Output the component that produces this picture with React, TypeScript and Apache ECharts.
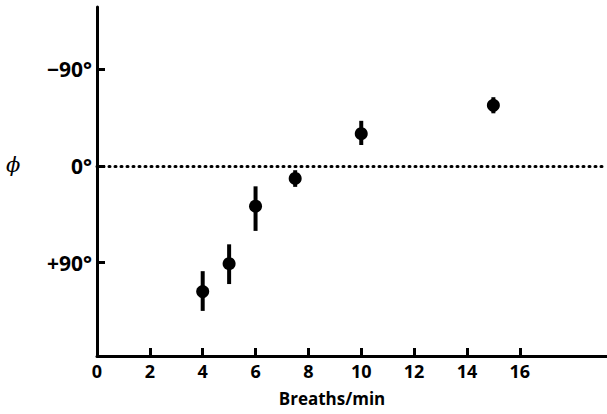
import React, { useEffect, useRef } from "react";
import * as echarts from "echarts";

// Breathing rate (breaths/min) and phase lag ϕ (degrees), with error limits
const rates = [4, 5, 6, 7.5, 10, 15];
const phase = [117, 91, 37.5, 11.7, -30, -56.5];
const errLow = [98, 73, 19, 4, -42, -64];
const errHigh = [135, 110, 60.5, 19.5, -19.5, -49];

const xTickValues = [2, 4, 6, 8, 10, 12, 14, 16];
const xLabelValues = [0, 2, 4, 6, 8, 10, 12, 14, 16];
const yTickValues = [-90, 0, 90];
const yLabelText: Record<number, string> = { [-90]: "\u221290\u00b0", 0: "0\u00b0", 90: "+90\u00b0" };

const FONT = "'Open Sans', Lato, sans-serif";

export default function App() {
  const ref = useRef<HTMLDivElement>(null);

  useEffect(() => {
    if (!ref.current) return;
    const chart = echarts.init(ref.current, null, { renderer: "svg" });

    const axisLine = { show: true, onZero: false, lineStyle: { color: "#000", width: 3 } };

    chart.setOption({
      animation: false,
      backgroundColor: "#fff",
      grid: { left: 97, right: 0, top: 7, bottom: 58, containLabel: false },
      xAxis: {
        type: "value",
        min: 0,
        max: 19.3,
        axisLine,
        axisTick: {
          show: true,
          inside: true,
          length: 8,
          customValues: xTickValues,
          lineStyle: { color: "#000", width: 3 },
        },
        axisLabel: {
          customValues: xLabelValues,
          color: "#000",
          fontFamily: FONT,
          fontWeight: "bold",
          fontSize: 18,
          margin: 6,
        },
        splitLine: { show: false },
      },
      yAxis: {
        type: "value",
        inverse: true,
        min: -148,
        max: 177,
        axisLine,
        axisTick: {
          show: true,
          inside: true,
          length: 8,
          customValues: yTickValues,
          lineStyle: { color: "#000", width: 3 },
        },
        axisLabel: {
          customValues: yTickValues,
          formatter: (v: number) => yLabelText[v] ?? "",
          color: "#000",
          fontFamily: FONT,
          fontWeight: "bold",
          fontSize: 21,
          margin: 5,
        },
        splitLine: { show: false },
      },
      graphic: [
        {
          type: "text",
          left: 6,
          top: 154,
          style: {
            text: "\u03d5",
            fontFamily: "'DejaVu Serif', serif",
            fontStyle: "italic",
            fontSize: 21,
            fill: "#000",
          },
        },
        {
          type: "text",
          x: 332,
          y: 390,
          style: {
            text: "Breaths/min",
            fontFamily: FONT,
            fontWeight: "bold",
            fontSize: 17,
            fill: "#000",
            align: "center",
          },
        },
      ],
      series: [
        {
          type: "custom",
          data: rates.map((r, i) => [r, errLow[i], errHigh[i]]),
          encode: { x: 0, y: [1, 2] },
          renderItem: (params: any, api: any) => {
            const x = api.value(0);
            const lo = api.coord([x, api.value(1)]);
            const hi = api.coord([x, api.value(2)]);
            return {
              type: "line",
              shape: { x1: lo[0], y1: lo[1], x2: hi[0], y2: hi[1] },
              style: { stroke: "#000", lineWidth: 4 },
            };
          },
          z: 2,
        },
        {
          type: "scatter",
          data: rates.map((r, i) => [r, phase[i]]),
          symbol: "circle",
          symbolSize: 13,
          itemStyle: { color: "#000", opacity: 1 },
          z: 3,
          markLine: {
            silent: true,
            symbol: "none",
            label: { show: false },
            lineStyle: { color: "#000", type: [1, 5], width: 3, cap: "round", opacity: 1 },
            data: [{ yAxis: 0 }],
          },
        },
      ],
    });

    return () => chart.dispose();
  }, []);

  return (
    <div
      ref={ref}
      style={{ position: "fixed", left: 0, top: 0, width: 607, height: 414 }}
    />
  );
}
